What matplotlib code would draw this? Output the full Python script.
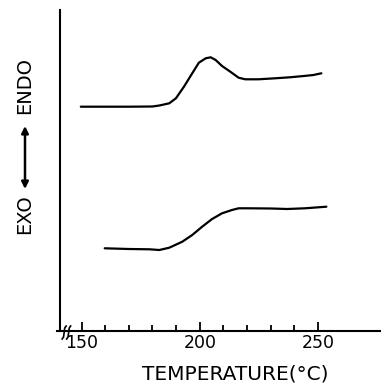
import matplotlib.pyplot as plt
from matplotlib.patches import FancyArrowPatch

# DSC traces (temperature in C, signal in arbitrary units)
upper_temp = [149.7, 160.0, 170.0, 180.0, 182.9, 187.1, 189.9, 193.3, 196.8,
              199.6, 202.5, 204.6, 206.7, 209.4, 212.9, 216.4, 219.2, 224.8,
              231.8, 238.0, 244.0, 248.0, 251.4]
upper_sig = [224.3, 224.3, 224.3, 224.5, 225.5, 227.7, 232.7, 244.3, 257.7,
             268.3, 272.7, 273.7, 271.0, 265.0, 259.3, 253.3, 251.7, 251.7,
             252.7, 253.7, 255.0, 256.0, 257.7]

lower_temp = [159.8, 170.0, 178.7, 182.9, 187.1, 192.6, 196.8, 201.0, 205.2,
              209.4, 213.6, 216.4, 220.6, 230.0, 237.0, 244.4, 253.5]
lower_sig = [82.7, 82.0, 81.7, 81.0, 83.3, 89.3, 96.0, 104.3, 112.0,
             117.7, 121.0, 122.7, 122.7, 122.5, 122.0, 122.7, 124.3]

tick_vals = [150, 160, 170, 180, 190, 200, 210, 220, 230, 240, 250]
tick_labels = ["150", "", "", "", "", "200", "", "", "", "", "250"]

W, H = 381, 385
fig = plt.figure(figsize=(W / 100, H / 100), dpi=100)
ax = fig.add_axes([60 / W, 54 / H, 1 - 60 / W, 321 / H])

ax.plot(upper_temp, upper_sig, color="black", lw=1.6,
        solid_capstyle="round", solid_joinstyle="round")
ax.plot(lower_temp, lower_sig, color="black", lw=1.6,
        solid_capstyle="round", solid_joinstyle="round")

ax.set_xlim(140.9, 276.6)
ax.set_ylim(0, 321)

for s in ["top", "right"]:
    ax.spines[s].set_visible(False)
ax.spines["left"].set_linewidth(1.5)
ax.spines["bottom"].set_linewidth(1.5)
ax.spines["bottom"].set_bounds(139.6, 276.6)

ax.set_yticks([])
ax.set_xticks(tick_vals)
ax.set_xticklabels(tick_labels, fontsize=12.5)
ax.tick_params(axis="x", direction="in", length=4.5, width=1.3, pad=2)
for t, lab in zip(ax.xaxis.get_major_ticks(), tick_labels):
    if lab:
        t.tick1line.set_markersize(6.5)

# axis break marks
for x0 in (142.6, 144.5):
    ax.plot([x0 - 0.8, x0 - 0.2, x0 + 0.3, x0 + 0.9], [-8, -6, 3, 5],
            color="black", lw=1.2, clip_on=False)

fig.text(235 / W, 1 - 374 / H, "TEMPERATURE(°C)", fontsize=14.5,
         ha="center", va="center")

fig.text(25 / W, 1 - 86 / H, "ENDO", fontsize=14, rotation=90,
         ha="center", va="center")
fig.text(25 / W, 1 - 214 / H, "EXO", fontsize=14, rotation=90,
         ha="center", va="center")
fig.patches.append(FancyArrowPatch(
    (25 / W, 1 - 189 / H), (25 / W, 1 - 126 / H),
    transform=fig.transFigure, arrowstyle="<|-|>", mutation_scale=10,
    color="black", lw=1.8, shrinkA=0, shrinkB=0))

fig.savefig("out.png", dpi=100)
